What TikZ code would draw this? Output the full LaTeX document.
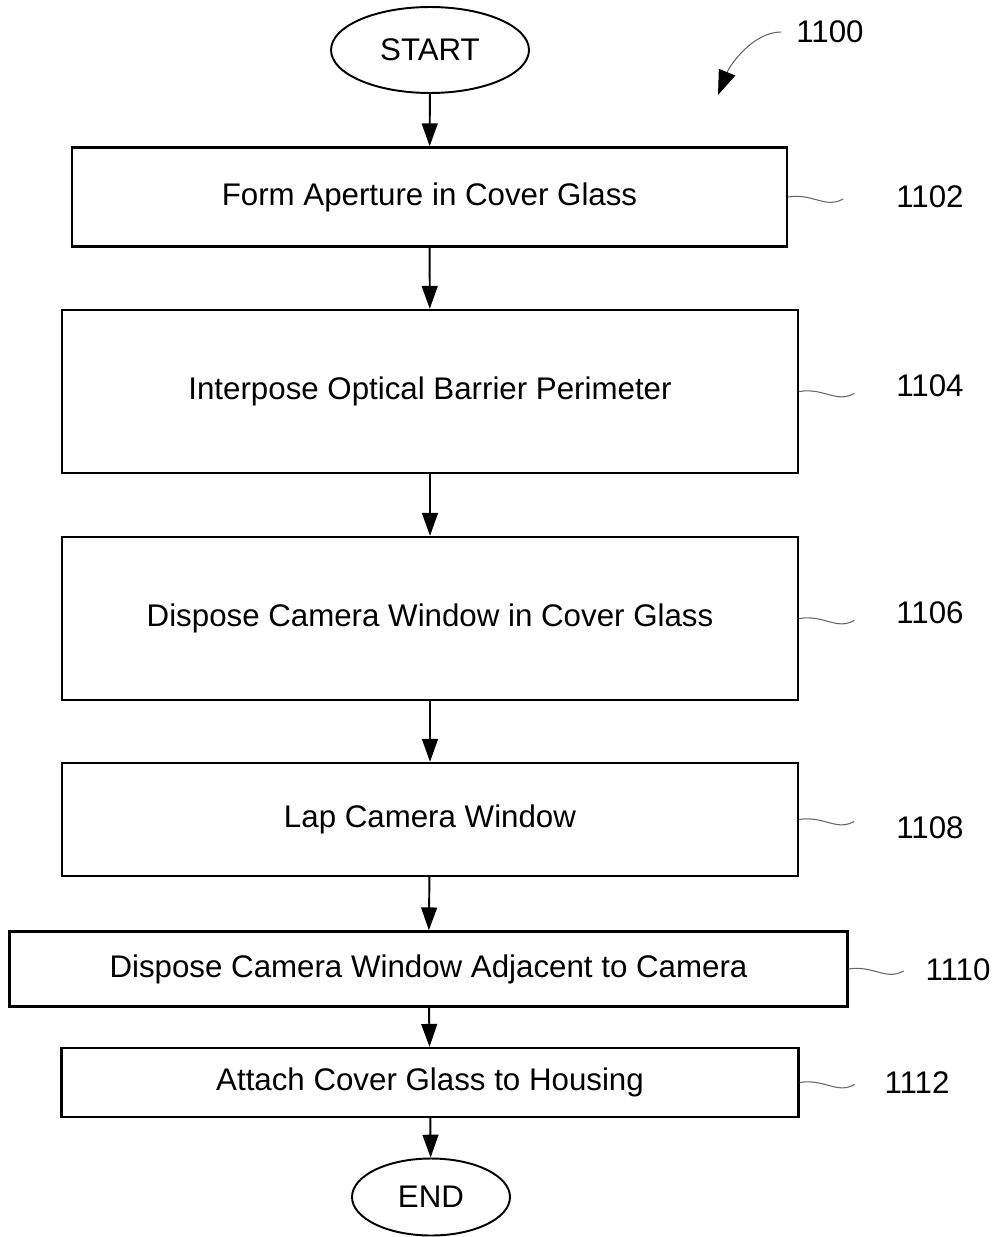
\documentclass[tikz,border=0pt]{standalone}
\usepackage{fontspec}
\setmainfont{Liberation Sans}
\usetikzlibrary{shapes.geometric,arrows.meta}
\tikzset{
    stepbox/.style={rectangle, draw, line width=1.4pt, inner sep=0pt, align=center},
    termnode/.style={ellipse, draw, line width=1.1pt, inner sep=0pt},
    flowarrow/.style={line width=1.1pt, -{Triangle[length=13pt,width=9pt]}},
    refwave/.style={draw=gray!80!black, line width=0.6pt},
    refnum/.style={inner sep=0pt},
}

\begin{document}
\begin{tikzpicture}[x=0.02cm,y=-0.02cm,font=\fontsize{17.8}{21}\selectfont]
  \useasboundingbox (0,0) rectangle (1000,1237);
  % START / END
  \node[termnode, minimum width=3.96cm, minimum height=1.72cm] (start) at (430,50) {START};
  \node[termnode, minimum width=3.16cm, minimum height=1.54cm] (end) at (431,1197) {END};
  % steps
  \foreach \n/\x/\y/\w/\h/\txt in {
      1102/429.5/197/14.30/1.98/Form Aperture in Cover Glass,
      1104/430/391.5/14.72/3.26/Interpose Optical Barrier Perimeter,
      1106/430/618.5/14.72/3.26/Dispose Camera Window in Cover Glass,
      1108/430/819.5/14.72/2.26/Lap Camera Window,
      1110/428.5/969/16.76/1.50/Dispose Camera Window Adjacent to Camera,
      1112/430/1082.5/14.74/1.38/Attach Cover Glass to Housing}{
    \node[stepbox, minimum width=\w cm, minimum height=\h cm] (s\n) at (\x,\y) {\txt};
  }
  % flow
  \draw[flowarrow] (start) -- (s1102);
  \foreach \a/\b in {1102/1104,1104/1106,1106/1108,1108/1110,1110/1112}{
    \draw[flowarrow] (s\a) -- (s\b);
  }
  \draw[flowarrow] (s1112) -- (end);
  % reference numerals
  \foreach \n/\lx/\ly in {1102/930/197,1104/930/386,1106/930/613,
                          1108/930/828,1110/958/970,1112/917/1083}{
    \draw[refwave] (s\n.east) .. controls +(25,-4) and +(-18,10) .. ++(55,2);
    \node[refnum] (l\n) at (\lx,\ly) {\n};
  }
  \node[refnum] (l1100) at (830,32) {1100};
  \coordinate (fig) at (718,95);
  \draw[refwave, -{Triangle[length=14pt,width=10pt,color=black]}]
    ([xshift=-0.3cm]l1100.west) .. controls +(-28,0) and +(12,-30) .. (fig);
\end{tikzpicture}
\end{document}
